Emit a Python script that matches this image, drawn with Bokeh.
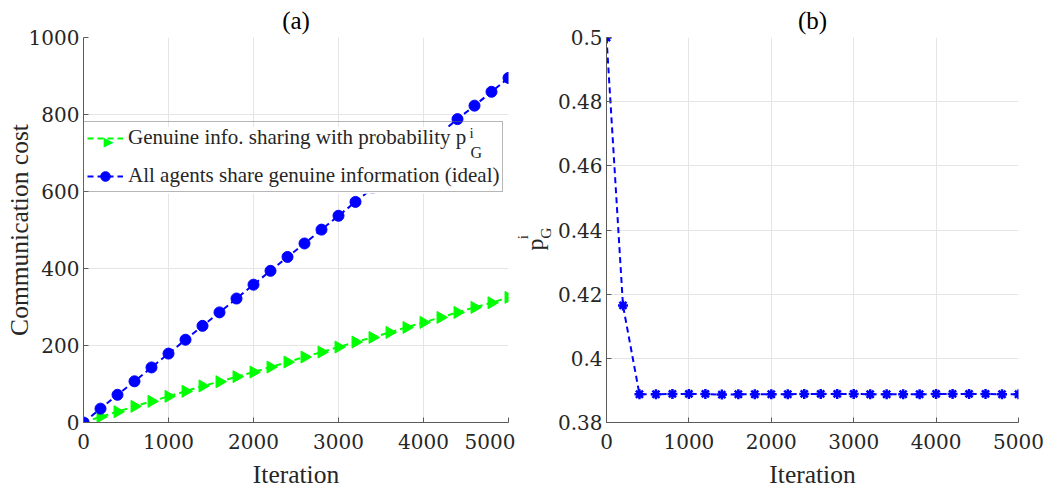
import numpy as np
from bokeh.plotting import figure
from bokeh.layouts import row
from bokeh.models import (Range1d, FixedTicker, Legend, LegendItem, ColumnDataSource)
from bokeh.core.properties import value
from bokeh.embed import file_html
from bokeh.resources import INLINE

# ---- data ----
iterations = [0, 200, 400, 600, 800, 1000, 1200, 1400, 1600, 1800, 2000, 2200, 2400,
              2600, 2800, 3000, 3200, 3400, 3600, 3800, 4000, 4200, 4400, 4600, 4800, 5000]
cost_prob = [0, 15, 28, 42, 55, 68, 81, 95, 106, 119, 131, 144, 157,
             170, 183, 196, 209, 221, 234, 247, 260, 273, 286, 299, 311, 325]
cost_ideal = [0, 36, 72, 107, 143, 179, 215, 251, 286, 322, 358, 394, 430,
              465, 501, 537, 573, 609, 644, 680, 716, 752, 788, 823, 859, 895]
p_g = [0.5, 0.4165, 0.3888, 0.3888, 0.3889, 0.3889, 0.3889, 0.3887, 0.3888, 0.3888,
       0.3888, 0.3888, 0.3889, 0.3889, 0.3889, 0.3889, 0.3888, 0.3888, 0.3888, 0.3888,
       0.3889, 0.3889, 0.3889, 0.3889, 0.3888, 0.3888]

x_ticks = [0, 1000, 2000, 3000, 4000, 5000]
y1_ticks = [0, 200, 400, 600, 800, 1000]
y2_ticks = [0.38, 0.40, 0.42, 0.44, 0.46, 0.48, 0.50]
y2_labels = ["0.38", "0.4", "0.42", "0.44", "0.46", "0.48", "0.5"]

FONT = "Liberation Serif"
TICK_FONT = "DejaVu Serif"
TICK_SIZE = "20px"
TXT = "#262626"
AX = "#5a5a5a"
GRID = "#e5e5e5"
GREEN = "#00ff00"
BLUE = "#0000ff"


def style(p, title):
    p.title.text = title
    p.title.align = "center"
    p.title.text_font = FONT
    p.title.text_font_size = "25px"
    p.title.text_font_style = "normal"
    p.title.text_color = "black"
    p.title.offset = 0
    p.title.standoff = 8
    for ax in (p.xaxis[0], p.yaxis[0]):
        ax.axis_line_color = AX
        ax.major_tick_line_color = AX
        ax.major_tick_in = 5
        ax.major_tick_out = 0
        ax.minor_tick_line_color = None
        ax.major_label_text_color = TXT
        ax.major_label_text_font_style = "normal"
        ax.axis_label_text_font = FONT
        ax.axis_label_text_font_size = "25.5px"
        ax.axis_label_text_font_style = "normal"
        ax.axis_label_text_color = TXT
    p.xaxis.major_label_standoff = 11
    p.xaxis.axis_label_standoff = 8
    p.yaxis.major_label_standoff = 4
    p.yaxis.axis_label_standoff = -8
    p.xgrid.grid_line_color = GRID
    p.ygrid.grid_line_color = GRID
    p.outline_line_color = None
    p.background_fill_color = "white"
    p.border_fill_color = "white"


# ---- left plot ----
p1 = figure(width=515, height=491, output_backend="svg", toolbar_location=None,
            x_range=Range1d(0, 5000), y_range=Range1d(0, 1000),
            min_border_left=83, min_border_right=7, min_border_top=37, min_border_bottom=67)
style(p1, "(a)")
p1.xaxis.ticker = FixedTicker(ticks=x_ticks)
p1.yaxis.ticker = FixedTicker(ticks=y1_ticks)
p1.xaxis.axis_label = "Iteration"
p1.yaxis.axis_label = "Communication cost"
p1.xaxis.major_label_text_font = TICK_FONT
p1.yaxis.major_label_text_font = TICK_FONT
p1.xaxis.major_label_text_font_size = TICK_SIZE
p1.yaxis.major_label_text_font_size = TICK_SIZE

src1 = ColumnDataSource(dict(x=iterations, g=cost_prob, b=cost_ideal))
lg = p1.line("x", "g", source=src1, line_color=GREEN, line_width=2, line_dash="6 4")
sg = p1.scatter("x", "g", source=src1, marker="triangle", size=12, angle=-np.pi / 2,
                fill_color=GREEN, line_color=GREEN)
lb = p1.line("x", "b", source=src1, line_color=BLUE, line_width=2, line_dash="6 4")
sb = p1.scatter("x", "b", source=src1, marker="circle", size=11,
                fill_color=BLUE, line_color=BLUE)

# white backing of the legend box (drawn above the data, below the legend texts)
p1.quad(left=[0], right=[5000], top=[767.4], bottom=[594.3],
        fill_color="white", line_color=None)
# extra legend texts: right-pointing marker and the scripts of p_G^i
leg_txt = ColumnDataSource(dict(x=[4541, 4553], y=[752, 700.3], t=["i", "G"],
                                fs=["15px", "16px"]))
p1.text(x="x", y="y", text="t", source=leg_txt, text_font=value(FONT), text_font_size="fs",
        text_color=TXT, text_align="left", text_baseline="alphabetic")
p1.text(x=[294], y=[728.7], text=["\u25B6"], text_font=value("DejaVu Sans"),
        text_font_size="13px", text_color=GREEN, text_align="center", text_baseline="middle")

legend = Legend(items=[
    LegendItem(label="Genuine info. sharing with probability p", renderers=[lg]),
    LegendItem(label="All agents share genuine information (ideal)", renderers=[lb, sb]),
], location=(0, 230))
legend.label_text_font = FONT
legend.label_text_font_size = "21px"
legend.label_text_color = TXT
legend.glyph_width = 36
legend.glyph_height = 24
legend.label_height = 24
legend.label_standoff = 5
legend.spacing = 13
legend.padding = 3
legend.margin = 0
legend.border_line_color = "#6e6e6e"
legend.border_line_width = 1
legend.background_fill_alpha = 0.0
p1.add_layout(legend)

# ---- middle strip holding the rotated y label of panel (b) ----
pm = figure(width=38, height=491, output_backend="svg", toolbar_location=None, title=None,
            x_axis_location=None, y_axis_location=None,
            x_range=Range1d(0, 38), y_range=Range1d(0, 491),
            min_border=0, min_border_left=0, min_border_right=0,
            min_border_top=0, min_border_bottom=0)
pm.grid.visible = False
pm.outline_line_color = None
ylab = ColumnDataSource(dict(x=[19, 29.5, 7], y=[227, 241.5, 236.5], t=["p", "G", "i"],
                             fs=["24px", "15.5px", "15px"]))
pm.text(x="x", y="y", text="t", source=ylab, angle=np.pi / 2, text_font=value(FONT),
        text_font_size="fs", text_color=TXT, text_align="center", text_baseline="middle")

# ---- right plot ----
p2 = figure(width=497, height=491, output_backend="svg", toolbar_location=None,
            x_range=Range1d(0, 5000), y_range=Range1d(0.38, 0.5),
            min_border_left=53, min_border_right=32, min_border_top=37, min_border_bottom=67)
style(p2, "(b)")
p2.xaxis.ticker = FixedTicker(ticks=x_ticks)
p2.yaxis.ticker = FixedTicker(ticks=y2_ticks)
p2.yaxis.major_label_overrides = {t: l for t, l in zip(y2_ticks, y2_labels)}
p2.xaxis.axis_label = "Iteration"
p2.xaxis.major_label_text_font = TICK_FONT
p2.yaxis.major_label_text_font = TICK_FONT
p2.xaxis.major_label_text_font_size = TICK_SIZE
p2.yaxis.major_label_text_font_size = TICK_SIZE

src2 = ColumnDataSource(dict(x=iterations, p=p_g))
p2.line("x", "p", source=src2, line_color=BLUE, line_width=2, line_dash="6 4")
p2.scatter("x", "p", source=src2, marker="asterisk", size=10, line_color=BLUE, line_width=2.5)

layout = row(p1, pm, p2)
open("out.html", "w").write(file_html(layout, INLINE))
